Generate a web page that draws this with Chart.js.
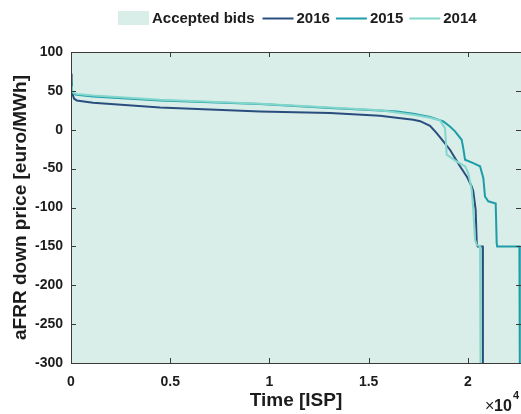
<!DOCTYPE html>
<html>
<head>
<meta charset="utf-8">
<script src="https://cdn.jsdelivr.net/npm/chart.js@4/dist/chart.umd.min.js"></script>
<style>
  html, body { margin: 0; padding: 0; background: #ffffff; }
  #wrap { width: 521px; height: 414px; }
</style>
</head>
<body>
<div id="wrap"><canvas id="c" width="521" height="414"></canvas></div>
<script>
// Sorted aFRR down-regulation prices per imbalance settlement period (ISP)
const isp2016 = [0, 30, 150, 290, 1110, 4485, 9525, 13050, 15575, 16300, 17250, 17600, 18095, 18430, 18765, 19100, 19605, 19945, 20195, 20275, 20395, 20450, 20500, 20750, 20760];
const price2016 = [72, 50, 40, 37.7, 34.7, 28.7, 23.5, 21.4, 18, 15.8, 12.9, 11, 5, -4.3, -15, -25.7, -47, -60, -73, -79, -103, -146, -150, -150, -300];

const isp2015 = [0, 40, 150, 290, 1110, 4485, 9525, 13050, 15575, 16415, 17250, 18100, 18430, 18765, 19100, 19355, 19690, 19770, 19860, 20275, 20615, 20780, 20865, 21030, 21405, 21455, 21480, 22600, 22620];
const price2015 = [62, 50, 46, 45, 42.8, 37.7, 33, 27.9, 24.8, 23.6, 20.6, 16.3, 13.7, 10.7, 4.3, -2, -12.9, -23.6, -38.6, -43, -47, -62, -85.8, -92, -95, -145.8, -150, -150, -300];

const isp2014 = [0, 40, 150, 290, 1110, 4485, 9525, 13050, 15575, 17250, 18100, 18600, 18850, 18935, 19440, 19860, 20025, 20195, 20275, 20360, 20445, 20615, 20640];
const price2014 = [56, 50, 47, 46, 44, 38.5, 33.5, 28.5, 25.2, 19.3, 15.4, 12, 2, -32, -41, -47, -55.7, -77, -103, -141, -148, -150, -300];

// Region of accepted bids (upper edge of the shaded band)
const acceptedIsp = [0, 22680];
const acceptedTop = [100, 100];

const xTickValues = [0, 5000, 10000, 15000, 20000];
const xTickLabels = ['0', '0.5', '1', '1.5', '2'];
const yTickValues = [100, 50, 0, -50, -100, -150, -200, -250, -300];

const seriesNames = ['Accepted bids', '2016', '2015', '2014'];
const seriesColors = ['#d9eee9', '#2a4d7e', '#1e9da9', '#82d6cb'];

const pts = (xs, ys) => xs.map((v, i) => ({ x: v, y: ys[i] }));
const FONT = "'Liberation Sans', Arial, Helvetica, sans-serif";
const AXIS = '#3a3a3a';
const TEXT = '#1c1c1c';

// Box frame with inward tick marks on all four sides
const framePlugin = {
  id: 'frame',
  afterDatasetsDraw(chart) {
    const { ctx, chartArea: a, scales: { x, y } } = chart;
    ctx.save();
    ctx.strokeStyle = AXIS;
    ctx.lineWidth = 1;
    ctx.beginPath();
    ctx.rect(a.left + 0.5, a.top + 0.5, a.right - a.left, a.bottom - a.top);
    const t = 5;
    xTickValues.forEach(v => {
      const px = Math.round(x.getPixelForValue(v)) + 0.5;
      ctx.moveTo(px, a.bottom); ctx.lineTo(px, a.bottom - t);
      ctx.moveTo(px, a.top); ctx.lineTo(px, a.top + t);
    });
    yTickValues.forEach(v => {
      const py = Math.round(y.getPixelForValue(v)) + 0.5;
      ctx.moveTo(a.left, py); ctx.lineTo(a.left + t, py);
      ctx.moveTo(a.right, py); ctx.lineTo(a.right - t, py);
    });
    ctx.stroke();
    ctx.restore();
  },
  afterDraw(chart) {
    const { ctx } = chart;
    ctx.save();
    // exponent marker for the x axis
    ctx.fillStyle = TEXT;
    ctx.textBaseline = 'alphabetic';
    ctx.textAlign = 'left';
    ctx.font = '16px ' + FONT;
    ctx.fillText('\u00d7', 485, 411);
    ctx.font = 'bold 16px ' + FONT;
    ctx.fillText('10', 494, 411);
    ctx.font = 'bold 11px ' + FONT;
    ctx.fillText('4', 513, 399);

    // legend row
    const yMid = 18;
    ctx.font = 'bold 15px ' + FONT;
    ctx.textBaseline = 'middle';
    let cx = 118;
    seriesNames.forEach((name, i) => {
      if (i === 0) {
        ctx.fillStyle = seriesColors[0];
        ctx.fillRect(cx, yMid - 7, 31, 14);
      } else {
        ctx.strokeStyle = seriesColors[i];
        ctx.lineWidth = 2;
        ctx.beginPath();
        ctx.moveTo(cx, yMid + 0.5);
        ctx.lineTo(cx + 31, yMid + 0.5);
        ctx.stroke();
      }
      ctx.fillStyle = TEXT;
      ctx.fillText(name, cx + 34, yMid + 1);
      cx += 34 + ctx.measureText(name).width + (i === 0 ? 8 : 6);
    });
    ctx.restore();
  }
};

const lineDs = (label, xs, ys, color, order) => ({
  label, data: pts(xs, ys), borderColor: color, backgroundColor: color,
  borderWidth: 2, pointRadius: 0, tension: 0, fill: false, order
});

new Chart(document.getElementById('c'), {
  type: 'line',
  data: {
    datasets: [
      lineDs(seriesNames[1], isp2016, price2016, seriesColors[1], 3),
      lineDs(seriesNames[2], isp2015, price2015, seriesColors[2], 2),
      lineDs(seriesNames[3], isp2014, price2014, seriesColors[3], 1),
      {
        label: seriesNames[0], data: pts(acceptedIsp, acceptedTop),
        borderWidth: 0, borderColor: 'rgba(0,0,0,0)', backgroundColor: seriesColors[0],
        pointRadius: 0, fill: 'start', order: 10
      }
    ]
  },
  options: {
    responsive: false,
    animation: false,
    devicePixelRatio: 1,
    layout: { padding: { top: 52, right: 0, left: 0, bottom: 0 } },
    plugins: { legend: { display: false }, tooltip: { enabled: false } },
    scales: {
      x: {
        type: 'linear', min: 0, max: 22680,
        afterBuildTicks(s) { s.ticks = xTickValues.map(v => ({ value: v })); },
        afterFit(s) { s.height = 51; s.paddingRight = 0; s.paddingLeft = 0; },
        grid: { display: false, drawTicks: false },
        border: { display: false },
        ticks: {
          autoSkip: false, maxRotation: 0, minRotation: 0,
          padding: 11, color: TEXT, font: { family: FONT, size: 14, weight: 'bold' },
          callback: (v, i) => xTickLabels[i]
        },
        title: {
          display: true, text: 'Time [ISP]', color: TEXT,
          font: { family: FONT, size: 19, weight: 'bold' }, padding: { top: 0, bottom: 2 }
        }
      },
      y: {
        type: 'linear', min: -300, max: 100,
        afterFit(s) { s.width = 71; },
        grid: { display: false, drawTicks: false },
        border: { display: false },
        ticks: {
          stepSize: 50, padding: 8, color: TEXT,
          font: { family: FONT, size: 14, weight: 'bold' }
        },
        title: {
          display: true, text: 'aFRR down price [euro/MWh]', color: TEXT,
          font: { family: FONT, size: 19, weight: 'bold' }, padding: { top: 9, bottom: 0 }
        }
      }
    }
  },
  plugins: [framePlugin]
});
</script>
</body>
</html>
